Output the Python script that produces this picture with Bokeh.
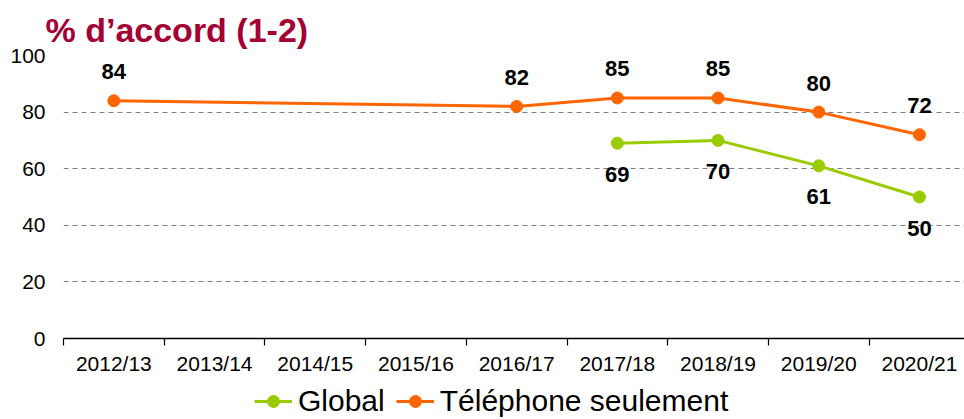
from bokeh.plotting import figure
from bokeh.layouts import column
from bokeh.models import Range1d, FixedTicker, Legend, LegendItem, ColumnDataSource
from bokeh.core.properties import value
from bokeh.embed import file_html
from bokeh.resources import INLINE

categories = ["2012/13", "2013/14", "2014/15", "2015/16", "2016/17",
              "2017/18", "2018/19", "2019/20", "2020/21"]
global_values = [None, None, None, None, None, 69, 70, 61, 50]
phone_values = [84, None, None, None, 82, 85, 85, 80, 72]
y_ticks = [0, 20, 40, 60, 80, 100]
series_names = ["Global", "Téléphone seulement"]
title_text = "% d’accord (1-2)"

GREEN = "#99CC00"
ORANGE = "#FF6600"
FONT = "Liberation Sans"

W = 964
H_MAIN, H_LEG = 380, 39
TOP, LEFT = 55, 63
BOTTOM = H_MAIN - 338
CAT_PX = 100.7

p = figure(width=W, height=H_MAIN, output_backend="svg", toolbar_location=None,
           x_range=Range1d(-0.5, -0.5 + (W - LEFT) / CAT_PX), y_range=Range1d(0, 100),
           min_border_left=LEFT, min_border_right=0, min_border_top=TOP,
           min_border_bottom=BOTTOM)
p.outline_line_color = None
p.background_fill_color = "white"
p.border_fill_color = "white"

p.title.text = title_text
p.title.align = "left"
p.title.offset = -18
p.title.standoff = 14
p.title.text_font = FONT
p.title.text_font_style = "bold"
p.title.text_font_size = "34px"
p.title.text_line_height = 0.9
p.title.text_color = "#A50034"

# axes
idx = list(range(len(categories)))
p.xaxis.ticker = FixedTicker(ticks=idx, minor_ticks=[i - 0.5 for i in range(len(categories) + 1)])
p.xaxis.major_label_overrides = {i: c for i, c in enumerate(categories)}
p.xaxis.major_tick_line_color = None
p.xaxis.major_tick_out = 0
p.xaxis.major_tick_in = 0
p.xaxis.minor_tick_line_color = "black"
p.xaxis.minor_tick_out = 7
p.xaxis.minor_tick_in = 0
p.xaxis.axis_line_color = "black"
p.xaxis.axis_line_width = 1.5
p.xaxis.minor_tick_line_width = 1.2
p.xaxis.major_label_standoff = 6
p.xaxis.major_label_text_font = FONT
p.xaxis.major_label_text_font_size = "21px"
p.xaxis.major_label_text_color = "black"

p.yaxis.ticker = FixedTicker(ticks=y_ticks)
p.yaxis.axis_line_color = None
p.yaxis.major_tick_line_color = None
p.yaxis.minor_tick_line_color = None
p.yaxis.major_tick_out = 0
p.yaxis.major_tick_in = 0
p.yaxis.major_label_standoff = 18
p.yaxis.major_label_text_font = FONT
p.yaxis.major_label_text_font_size = "21px"
p.yaxis.major_label_text_color = "black"

p.xgrid.grid_line_color = None
p.ygrid.ticker = FixedTicker(ticks=[t for t in y_ticks if t > 0])
p.ygrid.grid_line_color = "#7f7f7f"
p.ygrid.grid_line_dash = "5 4"
p.ygrid.grid_line_width = 1

def series(vals):
    xs = [i for i, v in zip(idx, vals) if v is not None]
    ys = [v for v in vals if v is not None]
    return ColumnDataSource(dict(x=xs, y=ys, t=[str(v) for v in ys]))

src_p = series(phone_values)
src_g = series(global_values)

p.line("x", "y", source=src_p, line_color=ORANGE, line_width=3)
p.scatter("x", "y", source=src_p, marker="circle", size=12, fill_color=ORANGE, line_color=ORANGE)
p.line("x", "y", source=src_g, line_color=GREEN, line_width=3)
p.scatter("x", "y", source=src_g, marker="circle", size=12, fill_color=GREEN, line_color=GREEN)

p.text("x", "y", text="t", source=src_p, y_offset=-29, text_align="center",
       text_baseline="middle", text_font=value(FONT), text_font_style="bold",
       text_font_size="22px", text_color="black")
p.text("x", "y", text="t", source=src_g, y_offset=31, text_align="center",
       text_baseline="middle", text_font=value(FONT), text_font_style="bold",
       text_font_size="22px", text_color="black")

# legend strip below the chart (its frame is aligned with the chart's frame)
q = figure(width=W, height=H_LEG, output_backend="svg", toolbar_location=None,
           x_range=Range1d(0, 1), y_range=Range1d(0, 1),
           x_axis_type=None, y_axis_type=None,
           min_border_left=0, min_border_right=0, min_border_top=0, min_border_bottom=0)
q.outline_line_color = None
q.xgrid.grid_line_color = None
q.ygrid.grid_line_color = None
q.background_fill_color = "white"
q.border_fill_color = "white"

nan = float("nan")
lg = q.line(x=[nan], y=[nan], line_color=GREEN, line_width=3)
sg = q.scatter(x=[nan], y=[nan], marker="circle", size=12, fill_color=GREEN, line_color=GREEN)
lp = q.line(x=[nan], y=[nan], line_color=ORANGE, line_width=3)
sp = q.scatter(x=[nan], y=[nan], marker="circle", size=12, fill_color=ORANGE, line_color=ORANGE)

legend = Legend(items=[LegendItem(label=series_names[0], renderers=[lg, sg]),
                       LegendItem(label=series_names[1], renderers=[lp, sp])],
                orientation="horizontal", location=(191, 1),
                glyph_width=38, glyph_height=30, label_standoff=6, spacing=11,
                padding=0, margin=0, border_line_color=None, background_fill_alpha=0,
                label_text_font=FONT, label_text_font_size="30px", label_text_color="black")
q.add_layout(legend)

layout = column(p, q, spacing=0)
open("out.html", "w").write(file_html(layout, INLINE))
